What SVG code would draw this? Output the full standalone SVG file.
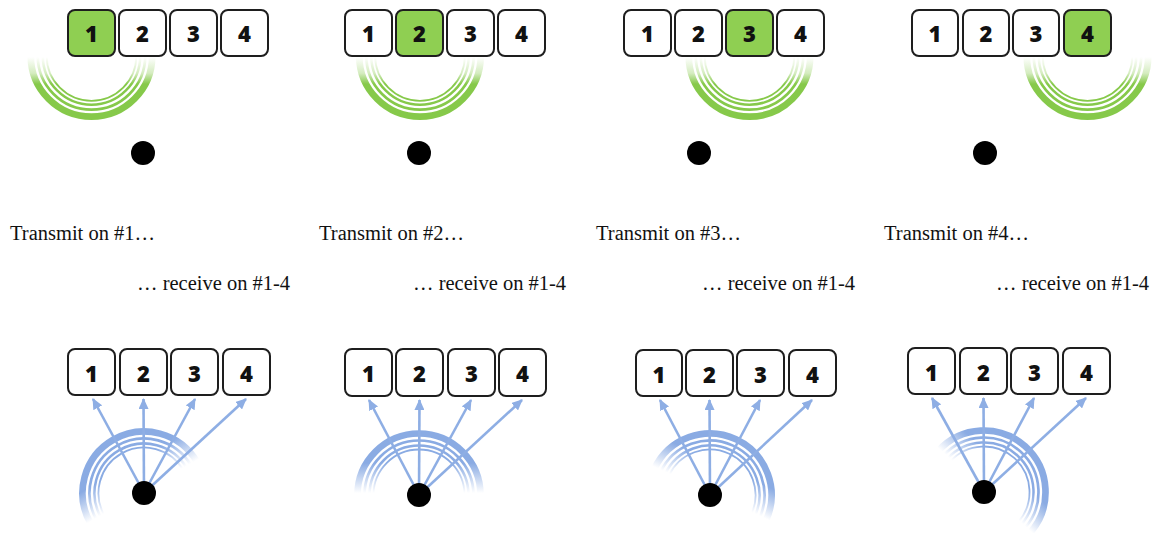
<svg xmlns="http://www.w3.org/2000/svg" width="1155" height="533" viewBox="0 0 1155 533">
<style>
.bx{fill:#fff;stroke:#1e1e1e;stroke-width:2}
.on{fill:#8fcf52}
.num{font-family:"Open Sans","DejaVu Sans",sans-serif;font-weight:800;font-size:22px;fill:#111;text-anchor:middle}
.lbl{font-family:"Liberation Serif","Times New Roman",serif;font-size:20.5px;fill:#111}
.dot{fill:#000}
.g{fill:none;stroke:url(#gfade)}
.b{fill:none;stroke:url(#bfade)}
.arr{stroke:#8eaee4;stroke-width:2.6;fill:none;marker-end:url(#ah)}
</style>
<defs>
<linearGradient id="gfade" gradientUnits="userSpaceOnUse" x1="0" y1="1" x2="0" y2="28">
<stop offset="0" stop-color="#86c94a" stop-opacity="0"/>
<stop offset="0.6" stop-color="#86c94a" stop-opacity="0.35"/>
<stop offset="1" stop-color="#86c94a" stop-opacity="1"/>
</linearGradient>
<linearGradient id="bfade" gradientUnits="userSpaceOnUse" x1="0" y1="-2" x2="0" y2="-32">
<stop offset="0" stop-color="#8aabe3" stop-opacity="0"/>
<stop offset="1" stop-color="#8aabe3" stop-opacity="1"/>
</linearGradient>
<marker id="ah" markerUnits="userSpaceOnUse" markerWidth="11" markerHeight="10" refX="10" refY="5" orient="auto">
<path d="M0,0 L11,5 L0,10 z" fill="#8eaee4"/>
</marker>
<g id="gr">
<path class="g" stroke-width="6.7" d="M-60.7,0 A60.7,60.7 0 0 0 60.7,0"/>
<path class="g" stroke-width="2.7" d="M-53.7,0 A53.7,53.7 0 0 0 53.7,0"/>
<path class="g" stroke-width="2.5" d="M-48.7,0 A48.7,48.7 0 0 0 48.7,0"/>
<path class="g" stroke-width="1.8" d="M-44.8,0 A44.8,44.8 0 0 0 44.8,0"/>
</g>
<g id="br">
<path class="b" stroke-width="6.7" d="M-61.5,0 A61.5,61.5 0 0 1 61.5,0"/>
<path class="b" stroke-width="2.7" d="M-54.5,0 A54.5,54.5 0 0 1 54.5,0"/>
<path class="b" stroke-width="2.5" d="M-49.5,0 A49.5,49.5 0 0 1 49.5,0"/>
<path class="b" stroke-width="1.8" d="M-45.5,0 A45.5,45.5 0 0 1 45.5,0"/>
</g>
</defs>
<rect width="1155" height="533" fill="#fff"/>

<!-- top row waves -->
<g id="tx-wave-1"><use href="#gr" transform="translate(91.5,56)"/></g>
<g id="tx-wave-2"><use href="#gr" transform="translate(420,56)"/></g>
<g id="tx-wave-3"><use href="#gr" transform="translate(749.5,56)"/></g>
<g id="tx-wave-4"><use href="#gr" transform="translate(1087.5,56)"/></g>

<!-- top panel 1 -->
<g id="t1-b1"><rect class="bx on" x="68" y="10" width="47" height="46" rx="7"/><text class="num" x="91.5" y="41.5">1</text></g>
<g id="t1-b2"><rect class="bx" x="119" y="10" width="47" height="46" rx="7"/><text class="num" x="142.5" y="41.5">2</text></g>
<g id="t1-b3"><rect class="bx" x="170" y="10" width="47" height="46" rx="7"/><text class="num" x="193.5" y="41.5">3</text></g>
<g id="t1-b4"><rect class="bx" x="221" y="10" width="47" height="46" rx="7"/><text class="num" x="244.5" y="41.5">4</text></g>
<g id="t1-dot"><circle class="dot" cx="143" cy="153" r="12"/></g>

<!-- top panel 2 -->
<g id="t2-b1"><rect class="bx" x="345" y="10" width="47" height="46" rx="7"/><text class="num" x="368.5" y="41.5">1</text></g>
<g id="t2-b2"><rect class="bx on" x="396" y="10" width="47" height="46" rx="7"/><text class="num" x="419.5" y="41.5">2</text></g>
<g id="t2-b3"><rect class="bx" x="447" y="10" width="47" height="46" rx="7"/><text class="num" x="470.5" y="41.5">3</text></g>
<g id="t2-b4"><rect class="bx" x="498" y="10" width="47" height="46" rx="7"/><text class="num" x="521.5" y="41.5">4</text></g>
<g id="t2-dot"><circle class="dot" cx="419" cy="153" r="12"/></g>

<!-- top panel 3 -->
<g id="t3-b1"><rect class="bx" x="624" y="10" width="47" height="46" rx="7"/><text class="num" x="647.5" y="41.5">1</text></g>
<g id="t3-b2"><rect class="bx" x="675" y="10" width="47" height="46" rx="7"/><text class="num" x="698.5" y="41.5">2</text></g>
<g id="t3-b3"><rect class="bx on" x="726" y="10" width="47" height="46" rx="7"/><text class="num" x="749.5" y="41.5">3</text></g>
<g id="t3-b4"><rect class="bx" x="777" y="10" width="47" height="46" rx="7"/><text class="num" x="800.5" y="41.5">4</text></g>
<g id="t3-dot"><circle class="dot" cx="699" cy="153" r="12"/></g>

<!-- top panel 4 -->
<g id="t4-b1"><rect class="bx" x="912" y="10" width="46" height="46" rx="7"/><text class="num" x="935" y="41.5">1</text></g>
<g id="t4-b2"><rect class="bx" x="963" y="10" width="46" height="46" rx="7"/><text class="num" x="986" y="41.5">2</text></g>
<g id="t4-b3"><rect class="bx" x="1013" y="10" width="46" height="46" rx="7"/><text class="num" x="1036" y="41.5">3</text></g>
<g id="t4-b4"><rect class="bx on" x="1064" y="10" width="47" height="46" rx="7"/><text class="num" x="1087.5" y="41.5">4</text></g>
<g id="t4-dot"><circle class="dot" cx="985" cy="153" r="12"/></g>

<!-- labels -->
<g id="labels">
<text class="lbl" x="10" y="240">Transmit on #1…</text>
<text class="lbl" x="319" y="240">Transmit on #2…</text>
<text class="lbl" x="596" y="240">Transmit on #3…</text>
<text class="lbl" x="884" y="240">Transmit on #4…</text>
<text class="lbl" x="137" y="290">… receive on #1-4</text>
<text class="lbl" x="413" y="290">… receive on #1-4</text>
<text class="lbl" x="702" y="290">… receive on #1-4</text>
<text class="lbl" x="996" y="290">… receive on #1-4</text>
</g>

<!-- bottom waves -->
<g id="rx-wave-1"><use href="#br" transform="translate(144,493) rotate(-30)"/></g>
<g id="rx-wave-2"><use href="#br" transform="translate(419,495)"/></g>
<g id="rx-wave-3"><use href="#br" transform="translate(710,495) rotate(25)"/></g>
<g id="rx-wave-4"><use href="#br" transform="translate(984,492) rotate(42)"/></g>

<!-- bottom panel 1 -->
<g id="b1-b1"><rect class="bx" x="68" y="349" width="47" height="46" rx="7"/><text class="num" x="91.5" y="381.5">1</text></g>
<g id="b1-b2"><rect class="bx" x="120" y="349" width="47" height="46" rx="7"/><text class="num" x="143.5" y="381.5">2</text></g>
<g id="b1-b3"><rect class="bx" x="171" y="349" width="47" height="46" rx="7"/><text class="num" x="194.5" y="381.5">3</text></g>
<g id="b1-b4"><rect class="bx" x="223" y="349" width="47" height="46" rx="7"/><text class="num" x="246.5" y="381.5">4</text></g>

<!-- bottom panel 2 -->
<g id="b2-b1"><rect class="bx" x="345" y="349" width="47" height="47" rx="7"/><text class="num" x="368.5" y="382">1</text></g>
<g id="b2-b2"><rect class="bx" x="396" y="349" width="47" height="47" rx="7"/><text class="num" x="419.5" y="382">2</text></g>
<g id="b2-b3"><rect class="bx" x="448" y="349" width="47" height="47" rx="7"/><text class="num" x="471.5" y="382">3</text></g>
<g id="b2-b4"><rect class="bx" x="499" y="349" width="47" height="47" rx="7"/><text class="num" x="522.5" y="382">4</text></g>

<!-- bottom panel 3 -->
<g id="b3-b1"><rect class="bx" x="636" y="350" width="46" height="46" rx="7"/><text class="num" x="659" y="382.5">1</text></g>
<g id="b3-b2"><rect class="bx" x="686" y="350" width="47" height="46" rx="7"/><text class="num" x="709.5" y="382.5">2</text></g>
<g id="b3-b3"><rect class="bx" x="737" y="350" width="47" height="46" rx="7"/><text class="num" x="760.5" y="382.5">3</text></g>
<g id="b3-b4"><rect class="bx" x="789" y="350" width="47" height="46" rx="7"/><text class="num" x="812.5" y="382.5">4</text></g>

<!-- bottom panel 4 -->
<g id="b4-b1"><rect class="bx" x="908" y="348" width="47" height="46" rx="7"/><text class="num" x="931.5" y="380.5">1</text></g>
<g id="b4-b2"><rect class="bx" x="960" y="348" width="47" height="46" rx="7"/><text class="num" x="983.5" y="380.5">2</text></g>
<g id="b4-b3"><rect class="bx" x="1011" y="348" width="47" height="46" rx="7"/><text class="num" x="1034.5" y="380.5">3</text></g>
<g id="b4-b4"><rect class="bx" x="1063" y="348" width="47" height="46" rx="7"/><text class="num" x="1086.5" y="380.5">4</text></g>

<!-- connectors -->
<g id="connectors">
<line class="arr" x1="144" y1="493" x2="93" y2="399"/>
<line class="arr" x1="144" y1="493" x2="143.5" y2="399"/>
<line class="arr" x1="144" y1="493" x2="195" y2="399"/>
<line class="arr" x1="144" y1="493" x2="246" y2="399"/>
<line class="arr" x1="419" y1="495" x2="369" y2="400"/>
<line class="arr" x1="419" y1="495" x2="419.5" y2="400"/>
<line class="arr" x1="419" y1="495" x2="471" y2="400"/>
<line class="arr" x1="419" y1="495" x2="522" y2="400"/>
<line class="arr" x1="710" y1="495" x2="660" y2="400"/>
<line class="arr" x1="710" y1="495" x2="709.5" y2="400"/>
<line class="arr" x1="710" y1="495" x2="760" y2="400"/>
<line class="arr" x1="710" y1="495" x2="812" y2="400"/>
<line class="arr" x1="984" y1="492" x2="932" y2="398"/>
<line class="arr" x1="984" y1="492" x2="983.5" y2="398"/>
<line class="arr" x1="984" y1="492" x2="1034" y2="398"/>
<line class="arr" x1="984" y1="492" x2="1086" y2="398"/>
</g>

<g id="b1-dot"><circle class="dot" cx="144" cy="493" r="12"/></g>
<g id="b2-dot"><circle class="dot" cx="419" cy="495" r="12"/></g>
<g id="b3-dot"><circle class="dot" cx="710" cy="495" r="12"/></g>
<g id="b4-dot"><circle class="dot" cx="984" cy="492" r="12"/></g>
</svg>
